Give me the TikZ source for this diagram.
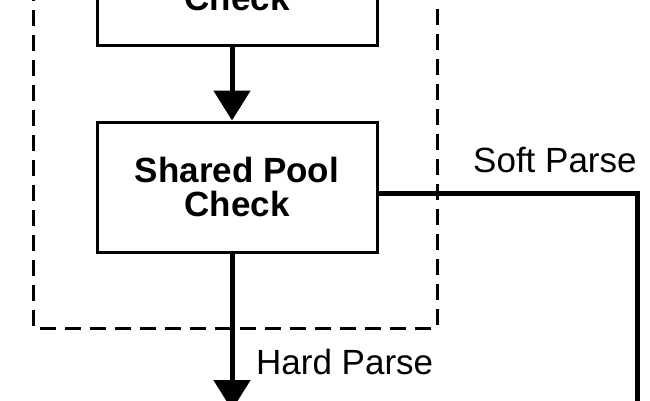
\documentclass[tikz,border=0pt]{standalone}
\usepackage{fontspec}
\setmainfont{Liberation Sans}
\usetikzlibrary{arrows.meta}
\begin{document}
\begin{tikzpicture}[x=1pt,y=-1pt,
  box/.style={draw,line width=3pt,minimum width=280pt,font=\fontsize{35}{38}\selectfont\bfseries,align=center,inner sep=0pt},
  conn/.style={line width=5pt},
  arr/.style={conn,-{Triangle[width=36pt,length=30pt]}},
  lbl/.style={font=\fontsize{35}{38}\selectfont,inner sep=0pt}]
\useasboundingbox (0,0) rectangle (650,400);
\clip (0,0) rectangle (650,400);
\draw[line width=3pt,dash pattern=on 16pt off 9pt] (33,-40) rectangle (437,328);
\node[box,minimum height=100pt] (syn) at (237,-5) {};
\node[font=\fontsize{35}{38}\selectfont\bfseries,anchor=base] (synt) at (237,10) {Check};
\node[box,minimum height=130pt] (sp) at (237,187) {Shared Pool\\[-4pt]Check};
\coordinate (hard) at (232,410);
\coordinate (c1) at (637,193);
\coordinate (soft) at (637,420);
\draw[arr] (syn.south -| 232,0) -- (sp.north -| 232,0);
\draw[arr] (sp.south -| 232,0) -- (hard);
\draw[conn] (sp.east |- c1) -- (c1) -- (soft);
\node[lbl,anchor=west] (sl) at (473,160) {Soft Parse};
\node[lbl,anchor=west] (hl) at (256,362) {Hard Parse};
\end{tikzpicture}
\end{document}
